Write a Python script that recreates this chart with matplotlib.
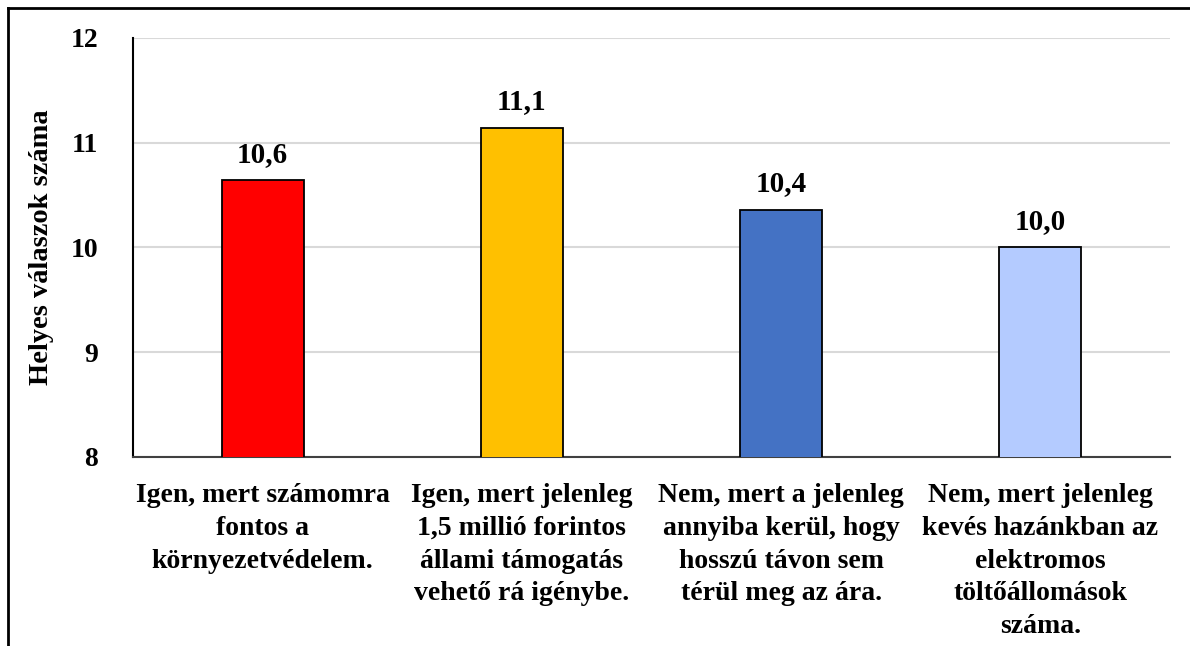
import matplotlib.pyplot as plt
from matplotlib.lines import Line2D

categories = [
    "Igen, mert számomra\nfontos a\nkörnyezetvédelem.",
    "Igen, mert jelenleg\n1,5 millió forintos\nállami támogatás\nvehető rá igénybe.",
    "Nem, mert a jelenleg\nannyiba kerül, hogy\nhosszú távon sem\ntérül meg az ára.",
    "Nem, mert jelenleg\nkevés hazánkban az\nelektromos\ntöltőállomások\nszáma.",
]
values = [10.64, 11.14, 10.36, 10.0]
colors = ["#FF0000", "#FFC000", "#4472C4", "#B4CBFF"]
yticks = [8, 9, 10, 11, 12]

plt.rcParams['font.family'] = ['Liberation Serif', 'DejaVu Serif']
plt.rcParams['font.weight'] = 'bold'

fig = plt.figure(figsize=(11.9, 6.46), dpi=100)
ax = fig.add_axes([0.1118, 0.2926, 0.8714, 0.6486])

x = list(range(len(values)))
ax.bar(x, values, width=0.316, color=colors, edgecolor='black', linewidth=1.3, zorder=3)

for xi, v in zip(x, values):
    ax.text(xi, v + 0.12, f"{v:.1f}".replace('.', ','), ha='center', va='bottom',
            fontsize=21, fontweight='bold')

ax.set_ylim(8, 12)
ax.set_xlim(-0.5, 3.5)
ax.set_yticks(yticks)
ax.set_yticklabels([str(t) for t in yticks], fontsize=20, fontweight='bold')
ax.set_xticks(x)
ax.set_xticklabels(categories, fontsize=20, fontweight='bold', linespacing=1.4)
ax.tick_params(axis='both', length=0)
ax.tick_params(axis='y', pad=25)
ax.tick_params(axis='x', pad=19)
ax.yaxis.grid(True, color='#d9d9d9', linewidth=1.5, zorder=0)
ax.set_axisbelow(True)
for s in ['top', 'right']:
    ax.spines[s].set_visible(False)
ax.spines['left'].set_linewidth(1.5)
ax.spines['bottom'].set_linewidth(1.5)
ax.spines['bottom'].set_color('#404040')

ax.set_ylabel("Helyes válaszok száma", fontsize=20.5, fontweight='bold')
ax.yaxis.set_label_coords(-0.076, 0.5)

# outer frame (top and left edge)
fig.add_artist(Line2D([8 / 1190, 1.0], [1 - 8 / 646, 1 - 8 / 646], color='black', linewidth=2,
                      transform=fig.transFigure))
fig.add_artist(Line2D([8 / 1190, 8 / 1190], [0, 1 - 8 / 646], color='black', linewidth=2,
                      transform=fig.transFigure))

fig.savefig("out.png", dpi=100)
